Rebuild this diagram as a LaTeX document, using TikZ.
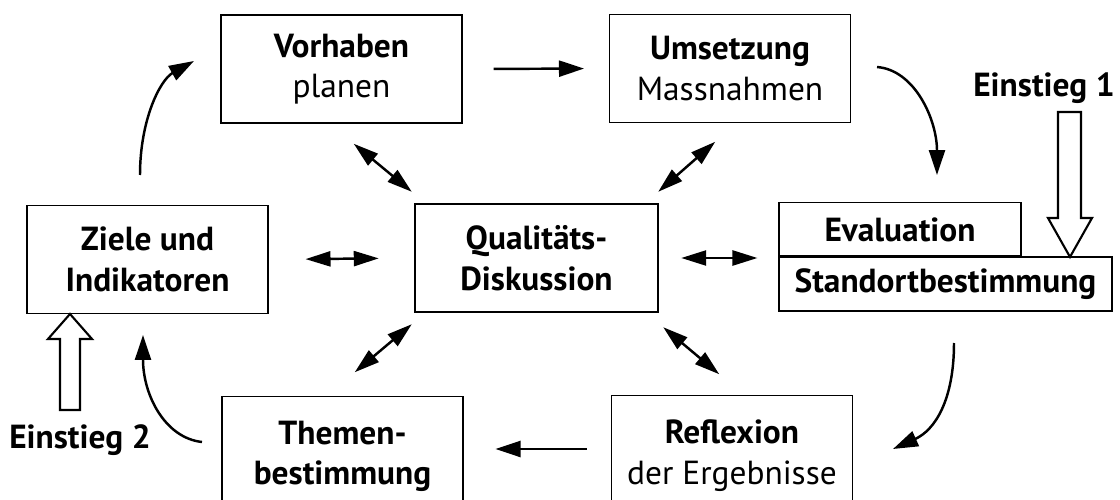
\documentclass[tikz,border=0pt]{standalone}
\usepackage{fontspec}
\setmainfont{PT Sans}
\usepackage{tikz}
\usetikzlibrary{arrows.meta,positioning,calc}
\tikzset{
  box/.style={draw, line width=0.6pt, align=center, inner sep=2pt, font=\fontsize{19}{23}\selectfont},
  boxwide/.style={box, minimum width=241*0.02cm, minimum height=108*0.02cm},
  hub/.style={box, line width=1.4pt},
  flow/.style={-{Triangle[length=5mm,width=3.2mm]}, line width=1.4pt},
  both/.style={{Triangle[length=5mm,width=3mm]}-{Triangle[length=5mm,width=3mm]}, line width=1.4pt},
  entry/.style={draw, line width=1.2pt, fill=white, line join=miter},
  lbl/.style={font=\fontsize{19}{23}\selectfont\bfseries},
}
\begin{document}
\begin{tikzpicture}[x=0.02cm,y=0.02cm]
\clip (0,0) rectangle (1120,-500);
\useasboundingbox (0,0) rectangle (1120,-500);
% boxes of the cycle
\node[boxwide] (vorh) at (341.5,-69) {\textbf{Vorhaben}\\planen};
\node[boxwide] (umset) at (730,-68.5) {\textbf{Umsetzung}\\Massnahmen};
\node[boxwide] (ziele) at (147.5,-259.5) {\textbf{Ziele und}\\\textbf{Indikatoren}};
\node[boxwide, hub, minimum width=243*0.02cm] (qual) at (536.5,-258) {\textbf{Qualitäts-}\\\textbf{Diskussion}};
\node[box, minimum width=333*0.02cm, minimum height=54*0.02cm] (stand) at (945.5,-284) {\textbf{Standortbestimmung}};
\node[box, minimum width=242*0.02cm, minimum height=53*0.02cm, anchor=south west] (eval) at (stand.north west) {\textbf{Evaluation}};
\node[boxwide, minimum height=120*0.02cm, anchor=north] (themen) at (342.5,-396) {\textbf{Themen-}\\\textbf{bestimmung}};
\node[boxwide, minimum height=120*0.02cm, anchor=north] (refl) at (732,-395) {\textbf{Reflexion}\\der Ergebnisse};
% entry points
\node[lbl] (ein1) at (1044,-88) {Einstieg 1};
\node[lbl] (ein2) at (80,-440) {Einstieg 2};
\draw[entry] (1058,-112) -- (1081,-112) -- (1081,-218) -- (1092,-218) -- (1070,-257)
  -- (1048,-218) -- (1058,-218) -- cycle;
\draw[entry] (60,-410) -- (80,-410) -- (80,-339) -- (92,-339) -- (70,-314)
  -- (48,-339) -- (60,-339) -- cycle;
% cycle
\draw[flow, shorten <=31*0.02cm, shorten >=25*0.02cm] (vorh.east) -- (umset.west);
\draw[flow] ([shift={(26,1.5)}]umset.east) .. controls (915,-70) and (937,-120) .. (937,-175);
\draw[flow] (954,-343) .. controls (954,-400) and (935,-430) .. (893,-449);
\draw[flow, shorten <=24*0.02cm, shorten >=32*0.02cm] (refl.west |- 0,-449) -- (themen.east |- 0,-449);
\draw[flow] (202,-442) .. controls (165,-438) and (143,-395) .. (143,-335);
\draw[flow] (140,-175) .. controls (140,-120) and (160,-80) .. (194,-61);
% links to the discussion
\draw[both, shorten <=37*0.02cm, shorten >=35*0.02cm] (ziele.east) -- (qual.west);
\draw[both, shorten <=22*0.02cm, shorten >=21*0.02cm] (qual.east) -- (stand.west |- qual.east);
\draw[both] ([shift={(-2,11)}]qual.north west) -- ([shift={(-60,59)}]qual.north west);
\draw[both] ([shift={(-1,11)}]qual.north east) -- ([shift={(56,61)}]qual.north east);
\draw[both] ([shift={(-2,-11)}]qual.south west) -- ([shift={(-59,-59)}]qual.south west);
\draw[both] ([shift={(4,-14)}]qual.south east) -- ([shift={(60,-61)}]qual.south east);
\end{tikzpicture}
\end{document}
